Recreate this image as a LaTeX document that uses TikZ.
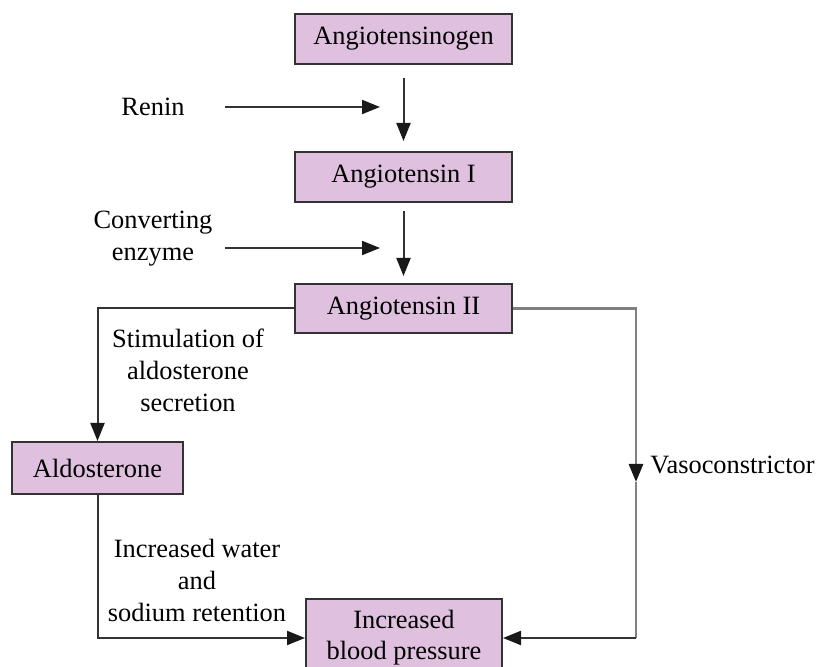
\documentclass[tikz,border=0pt]{standalone}
\usepackage{fontspec}
\setmainfont{Liberation Serif}
\usetikzlibrary{arrows.meta}
\definecolor{lilac}{RGB}{223,192,223}

\begin{document}
\begin{tikzpicture}[x=0.5pt, y=-0.5pt,
  box/.style={draw=black!80, line width=1pt, fill=lilac, inner sep=2pt, align=center, font=\fontsize{13.2pt}{15.5pt}\selectfont},
  lbl/.style={inner sep=2pt, align=center, font=\fontsize{13.2pt}{16pt}\selectfont},
  arr/.style={-{Triangle[length=9pt,width=7pt,color=black!90]}, line width=1pt, draw=black!80},
  pale/.style={line width=1.4pt, draw=black!50}]
\useasboundingbox (0,0) rectangle (819,667);
\clip (0,0) rectangle (819,667);

\node[box, minimum width=108.5pt, minimum height=25pt] (ogen) at (403.5,39) {Angiotensinogen};
\node[box, minimum width=108.5pt, minimum height=25pt] (one) at (403.5,177) {Angiotensin I};
\node[box, minimum width=108.5pt, minimum height=24.5pt] (two) at (403.5,308.5) {Angiotensin II};
\node[box, minimum width=85.5pt, minimum height=26pt] (aldo) at (97.5,468) {Aldosterone};
\node[box, minimum width=98pt, minimum height=39pt] (bp) at (404,638) {Increased\\blood pressure};

\node[lbl] (renin) at (153,107) {Renin};
\node[lbl] (enzyme) at (153,239) {Converting\\enzyme};
\node[lbl] (stim) at (188,370) {Stimulation of\\aldosterone\\secretion};
\node[lbl] (water) at (197,580) {Increased water\\and\\sodium retention};
\node[lbl, anchor=west] (vaso) at (646,465) {Vasoconstrictor};

\coordinate (rtip) at (380,107);
\coordinate (etip) at (380,248);
\coordinate (vtip) at (636,482);

\draw[arr, shorten <=6.5pt, shorten >=5pt] (ogen) -- (one);
\draw[arr, shorten <=4pt, shorten >=3.5pt] (one) -- (two);
\draw[arr, shorten <=18pt] (renin.east) -- (rtip);
\draw[arr, shorten <=4pt] (enzyme.east |- etip) -- (etip);

\draw[arr] (two.west) -| (aldo.north);
\draw[arr] (aldo.south) |- (bp.west);

\draw[pale, -{Triangle[length=9pt,width=7pt,color=black!90]}] (two.east) -| (vtip);
\draw[pale] (vtip) -- (vtip |- bp.east);
\draw[arr] (vtip |- bp.east) -- (bp.east);
\end{tikzpicture}
\end{document}
